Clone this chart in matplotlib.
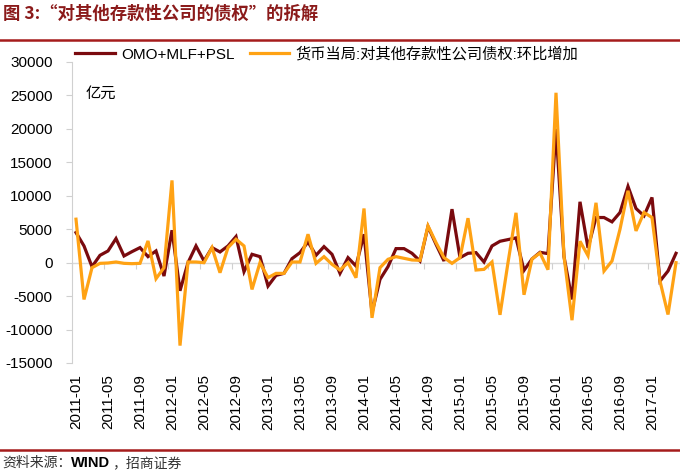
import matplotlib
matplotlib.use("Agg")
import matplotlib.pyplot as plt
import numpy as np

plt.rcParams['font.family'] = ['Liberation Sans', 'Noto Sans CJK SC', 'DejaVu Sans']

# ---- data (亿元), monthly 2011-01 .. 2017-04 ----
months = [f"{y}-{m:02d}" for y in range(2011, 2018) for m in range(1, 13)][:76]

omo_mlf_psl = [4500, 2500, -600, 1100, 1750, 3600, 1000, 1650, 2250, 900, 1750, -2000,
               4850, -4200, 0, 2500, 250, 2250, 1600, 2500, 3900, -1350, 1250, 900,
               -3500, -1900, -1600, 600, 1500, 3100, 1100, 2400, 1250, -1600, 750, -500,
               4250, -7500, -2500, -600, 2100, 2100, 1400, 250, 5400, 2750, 250, 8000,
               750, 1400, 1500, 100, 2500, 3200, 3450, 3700, -1150, 550, 1550, 1350,
               20000, 900, -5500, 9100, 2200, 6750, 6750, 6100, 7500, 11400, 8100, 7000,
               9750, -2750, -1250, 1400]

claims_mom = [6500, -5500, -750, -100, -50, 100, -100, -150, -100, 3250, -2400, -750,
              12300, -12400, 100, 100, 0, 2250, -1500, 2250, 3500, 2500, -4000, 0,
              -2250, -1600, -1600, 100, 100, 4250, -100, 900, -250, -1100, 0, -2250,
              8100, -8250, -750, 500, 900, 650, 400, 350, 5500, 3000, 750, -100,
              750, 6650, -1100, -1000, 100, -7800, 0, 7450, -4800, 550, 1450, -1050,
              25400, 950, -8600, 3200, 1050, 8950, -1250, 250, 5000, 10750, 4750, 7500,
              6750, -2750, -7750, 0]

tick_labels = ["2011-01", "2011-05", "2011-09", "2012-01", "2012-05", "2012-09",
               "2013-01", "2013-05", "2013-09", "2014-01", "2014-05", "2014-09",
               "2015-01", "2015-05", "2015-09", "2016-01", "2016-05", "2016-09",
               "2017-01"]
y_ticks = [30000, 25000, 20000, 15000, 10000, 5000, 0, -5000, -10000, -15000]

series_names = ["OMO+MLF+PSL", "货币当局:对其他存款性公司债权:环比增加"]
colors = ["#7A0A0E", "#FFA214"]

# ---- figure ----
fig = plt.figure(figsize=(6.8, 4.72), dpi=100)
ax = fig.add_axes([72/680, 1-363/472, 608/680, (363-62)/472])

x = np.arange(len(months))
ax.plot(x, omo_mlf_psl, color=colors[0], lw=2.3, label=series_names[0], solid_joinstyle='miter')
ax.plot(x, claims_mom, color=colors[1], lw=2.3, label=series_names[1], solid_joinstyle='miter')

ax.set_xlim(-0.5, len(months) - 0.5)
ax.set_ylim(-15000, 30000)
ax.axhline(0, color="#D9D9D9", lw=1.0, zorder=0)

ax.set_yticks(y_ticks)
ax.set_yticklabels([str(v) for v in y_ticks], fontsize=11, color="#000000")
ax.tick_params(axis='y', length=4, color="#D0D0D0", pad=10)

tick_pos = [months.index(t) for t in tick_labels]
ax.set_xticks(tick_pos)
ax.set_xticklabels(tick_labels, rotation=90, fontsize=11)
ax.tick_params(axis='x', length=0, pad=8)

for s in ['top', 'right', 'bottom']:
    ax.spines[s].set_visible(False)
ax.spines['left'].set_color("#D0D0D0")

# small category ticks along the zero line
ymin, ymax = ax.get_ylim()
sec = ax.secondary_xaxis((0 - ymin) / (ymax - ymin))
sec.set_xticks([p - 0.5 for p in tick_pos])
sec.set_xticklabels([])
sec.tick_params(length=4, color="#D0D0D0", direction='out')
sec.spines['bottom'].set_visible(False)

ax.text(0.022, 0.895, "亿元", transform=ax.transAxes, fontsize=11,
        family=['Noto Sans CJK SC'], va='center', ha='left')

leg = ax.legend(loc='upper left', bbox_to_anchor=(0.005, 1.05), ncol=2, frameon=False,
                fontsize=11, handlelength=2.6, columnspacing=1.0, handletextpad=0.4,
                borderaxespad=0.0, borderpad=0.0)
for t in leg.get_texts():
    t.set_family(['Liberation Sans', 'Noto Sans CJK SC'])

# header / footer
fig.text(0.004, 1-14/472, "图 3:“对其他存款性公司的债权”的拆解", fontsize=12.5,
         fontweight='bold', color="#8B1A1A", family=['Noto Sans CJK SC'],
         va='center', ha='left')
fig.add_artist(plt.Line2D([0, 1], [1-40/472, 1-40/472], color="#A51C1C", lw=1.8))
fig.add_artist(plt.Line2D([0, 1], [1-450/472, 1-450/472], color="#A51C1C", lw=1.8))
fig.text(0.004, 1-463/472, "资料来源：", fontsize=10, color="#333333",
         family=['Noto Sans CJK SC'], va='center', ha='left')
fig.text(0.105, 1-463/472, "WIND", fontsize=10.5, color="#000000", fontweight='bold',
         family=['Liberation Sans'], va='center', ha='left')
fig.text(0.165, 1-463/472, "，招商证券", fontsize=10, color="#333333",
         family=['Noto Sans CJK SC'], va='center', ha='left')

fig.savefig("out.png", dpi=100)
